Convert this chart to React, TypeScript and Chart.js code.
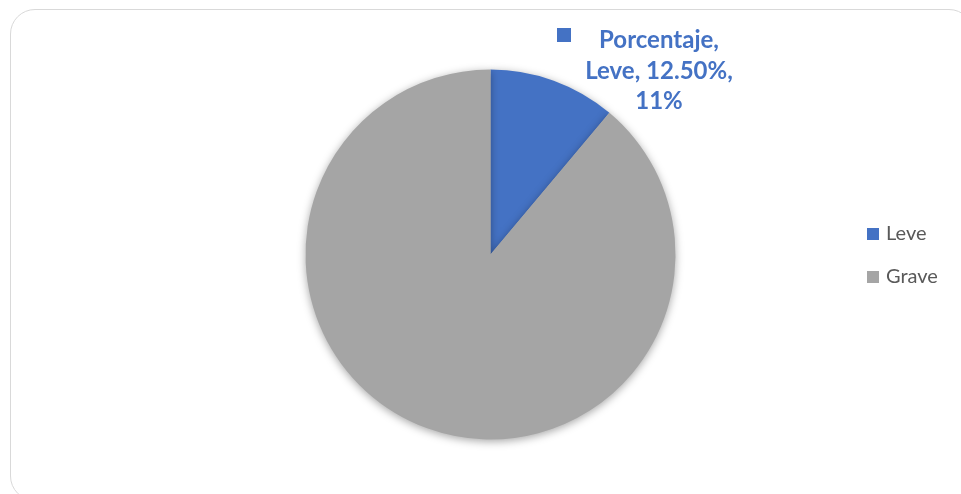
import React, { useEffect, useRef } from "react";
import { Chart, registerables } from "chart.js";

Chart.register(...registerables);

const seriesName = "Porcentaje";
const categories = ["Leve", "Grave"];
const values = [0.125, 1.0];
const colors = ["#4472C4", "#A5A5A5"];

const FONT = "Lato, 'Open Sans', 'Liberation Sans', sans-serif";

const overlayPlugin = {
  id: "overlay",
  beforeDatasetsDraw(chart: any) {
    const ctx = chart.ctx;
    ctx.save();
    ctx.shadowColor = "rgba(0,0,0,0.35)";
    ctx.shadowBlur = 9;
    ctx.shadowOffsetX = 0;
    ctx.shadowOffsetY = 2;
  },
  afterDatasetsDraw(chart: any) {
    const ctx = chart.ctx;
    ctx.restore();
    const vals = chart.data.datasets[0].data as number[];
    const total = vals.reduce((a, b) => a + b, 0);
    const i = 0;
    const pct = Math.round((vals[i] / total) * 100);
    const lines = [
      seriesName + ",",
      categories[i] + ", " + (vals[i] * 100).toFixed(2) + "%,",
      pct + "%",
    ];
    ctx.save();
    ctx.font = "bold 24px " + FONT;
    ctx.fillStyle = colors[i];
    ctx.textAlign = "center";
    ctx.textBaseline = "alphabetic";
    const cx = 659;
    const y0 = 48;
    lines.forEach((l, k) => ctx.fillText(l, cx, y0 + k * 30.5));
    ctx.fillRect(557, 28, 14, 14);
    ctx.restore();

    ctx.save();
    ctx.font = "20px " + FONT;
    ctx.textAlign = "left";
    ctx.textBaseline = "alphabetic";
    categories.forEach((c, k) => {
      const base = 240 + k * 43;
      ctx.fillStyle = colors[k];
      ctx.fillRect(867, base - 12, 12, 12);
      ctx.fillStyle = "#595959";
      ctx.fillText(c, 886, base);
    });
    ctx.restore();
  },
};

export default function App() {
  const ref = useRef<HTMLCanvasElement>(null);
  useEffect(() => {
    if (!ref.current) return;
    const chart = new Chart(ref.current, {
      type: "pie",
      data: {
        labels: categories,
        datasets: [
          {
            label: seriesName,
            data: values,
            backgroundColor: colors,
            borderWidth: 0,
          },
        ],
      },
      options: {
        animation: false,
        responsive: false,
        layout: { padding: { left: 305.5, right: 285.5, top: 69.5, bottom: 54.5 } },
        plugins: {
          legend: { display: false },
          tooltip: { enabled: false },
        },
      },
      plugins: [overlayPlugin],
    });
    return () => chart.destroy();
  }, []);
  return (
    <div style={{ position: "fixed", left: 0, top: 0, width: 961, height: 494, background: "#fff", overflow: "hidden" }}>
      <div
        style={{
          position: "absolute",
          left: 10,
          top: 9,
          width: 962,
          height: 490,
          border: "1.5px solid #d9d9d9",
          borderRadius: 25,
        }}
      />
      <canvas ref={ref} width={961} height={494} style={{ position: "absolute", left: 0, top: 0 }} />
    </div>
  );
}
